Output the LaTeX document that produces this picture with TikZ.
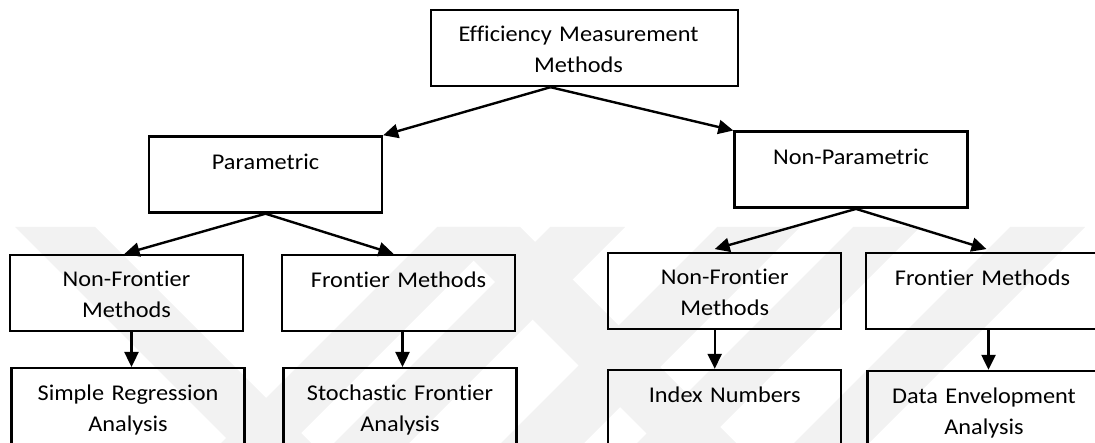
\documentclass[tikz,border=0pt]{standalone}
\usepackage{fontspec}
\setmainfont{Carlito}[FakeStretch=1.08, Ligatures={NoCommon}]
\usetikzlibrary{arrows.meta,calc}
\tikzset{
  box/.style={draw=black, line width=2.4pt, minimum width=233pt, minimum height=76pt, inner sep=0pt},
  lbl/.style={anchor=north, inner sep=0pt, text width=232pt, align=center,
              font=\fontsize{22.5}{31}\selectfont, execute at begin node=\strut},
  conn/.style={line width=2.4pt, -{Triangle[length=15pt,width=14pt]}},
  wm/.style={fill=black!5, draw=none}
}
\begin{document}
\begin{tikzpicture}[x=1pt,y=-1pt]
\useasboundingbox (0,0) rectangle (1095,443);
% faint watermark
\begin{scope}
\clip (0,227) rectangle (1095,443);
\fill[wm] (15,227) -- (95,227) -- (311,443) -- (231,443) -- cycle;
\fill[wm] (440,227) -- (520,227) -- (736,443) -- (656,443) -- cycle;
\fill[wm] (437,227) -- (507,227) -- (291,443) -- (221,443) -- cycle;
\fill[wm] (550,227) -- (625,227) -- (409,443) -- (334,443) -- cycle;
\fill[wm] (717,227) -- (800,227) -- (584,443) -- (501,443) -- cycle;
\fill[wm] (853,227) -- (920,227) -- (704,443) -- (637,443) -- cycle;
\fill[wm] (1010,227) -- (1085,227) -- (869,443) -- (794,443) -- cycle;
\end{scope}
% boxes
\node[box, minimum width=307pt] (top) at (584.5,48) {};
\node[box] (par) at (265.5,174.5) {};
\node[box] (npar) at (851,169.7) {};
\node[box] (nf1) at (126.5,293) {};
\node[box] (fm1) at (398.5,293) {};
\node[box] (nf2) at (724.7,291.3) {};
\node[box] (fm2) at (982.5,291.3) {};
\node[box] (b1) at (128,406.2) {};
\node[box] (b2) at (400,406.2) {};
\node[box] (b3) at (724.7,408) {};
\node[box] (b4) at (984,409) {};
% texts
\node[lbl, text width=300pt] (topT) at ($(top.north)+(-6,11.3)$) {Efficiency Measurement\\Methods};
\node[lbl] (parT) at ($(par.north)+(0,12)$) {Parametric};
\node[lbl] (nparT) at ($(npar.north)+(0,12)$) {Non-Parametric};
\node[lbl] (nf1T) at ($(nf1.north)+(0,11)$) {Non-Frontier\\Methods};
\node[lbl] (fm1T) at ($(fm1.north)+(0,11.6)$) {Frontier Methods};
\node[lbl] (nf2T) at ($(nf2.north)+(0,11)$) {Non-Frontier\\Methods};
\node[lbl] (fm2T) at ($(fm2.north)+(0,11.6)$) {Frontier Methods};
\node[lbl] (b1T) at ($(b1.north)+(0,11.7)$) {Simple Regression\\Analysis};
\node[lbl] (b2T) at ($(b2.north)+(0,11.7)$) {Stochastic Frontier\\Analysis};
\node[lbl] (b3T) at ($(b3.north)+(0,11.7)$) {Index Numbers};
\node[lbl] (b4T) at ($(b4.north)+(0,11.7)$) {Data Envelopment\\Analysis};
% connectors
\coordinate (topS) at ($(top.south)+(-34,0)$);
\draw[conn] (topS) -- (par.north east);
\draw[conn] (topS) -- (npar.north west);
\draw[conn] (par.south) -- ($(nf1.north)+(-2,0)$);
\draw[conn] (par.south) -- ($(fm1.north)+(-5,0)$);
\draw[conn] ($(npar.south)+(5,0)$) -- ($(nf2.north)+(-10,-3)$);
\draw[conn] ($(npar.south)+(5,0)$) -- ($(fm2.north)+(4,-3)$);
\draw[conn] ([xshift=5pt]nf1.south) -- ([xshift=5pt]nf1.south |- b1.north);
\draw[conn] ([xshift=4pt]fm1.south) -- ([xshift=4pt]fm1.south |- b2.north);
\draw[conn] ([xshift=-10pt]nf2.south) -- ([xshift=-10pt]nf2.south |- b3.north);
\draw[conn] ([xshift=6pt]fm2.south) -- ([xshift=6pt]fm2.south |- b4.north);
\end{tikzpicture}
\end{document}
